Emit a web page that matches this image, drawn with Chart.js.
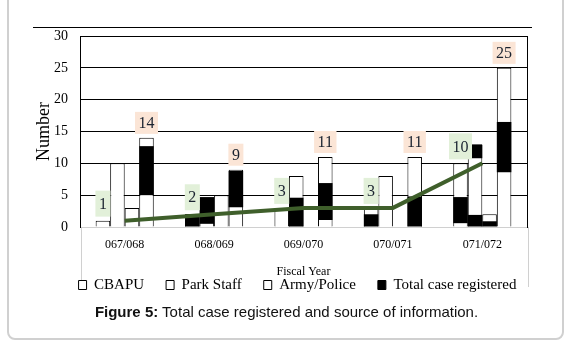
<!DOCTYPE html>
<html>
<head>
<meta charset="utf-8">
<script src="https://cdn.jsdelivr.net/npm/chart.js@4.4.1/dist/chart.umd.min.js"></script>
<style>
  body { margin: 0; background: #fff; }
  #frame { position: absolute; left: 7px; top: -10px; width: 553px; height: 346px; border: 2px solid #d0d0d0; border-radius: 8px; }
  #wrap { position: absolute; left: 0; top: 0; width: 573px; height: 351px; }
  #caption { position: absolute; left: 0; top: 303px; width: 573px; text-align: center; font: 15px "Liberation Sans", Arial, sans-serif; line-height: 18px; color: #111; }
</style>
</head>
<body>
<div id="frame"></div>
<div id="wrap"><canvas id="caseChart"></canvas></div>
<div id="caption"><b>Figure 5:</b> Total case registered and source of information.</div>
<script>
const years = ["067/068", "068/069", "069/070", "070/071", "071/072"];
const legendNames = ["CBAPU", "Park Staff", "Army/Police", "Total case registered"];
const cbapu = [1, 2, 3, 3, 10];
const parkStaff = [10, 2, 8, 8, 13];
const armyPolice = [3, 5, 0, 0, 2];
const totalCases = [14, 9, 11, 11, 25];
const yTicks = [0, 5, 10, 15, 20, 25, 30];

// black patches that show inside the bars of the original figure
const shadeCbapu = [null, [0, 2], null, [0, 2], [0.6, 4.7]];
const shadePark = [null, [0.5, 4.7], [0, 4.6], null, [10.8, 12.9]];
const shadeParkLow = [null, null, null, null, [0, 1.9]];
const shadeArmy = [null, null, null, null, [0, 0.9]];
const shadeTotal = [[5, 12.7], [3.1, 8.8], [1.1, 6.9], [0, 4.8], [8.6, 16.5]];

const serif = "'Liberation Serif', 'Times New Roman', serif";

const shade = (data, stack) => ({
  type: "bar",
  data: data,
  stack: stack,
  backgroundColor: "#000",
  borderWidth: 0,
  order: 1,
});

const outlined = (label, data, stack) => ({
  type: "bar",
  label: label,
  data: data,
  stack: stack,
  backgroundColor: "#fff",
  borderColor: "#000",
  borderWidth: 1,
  order: 2,
});

// value boxes above the CBAPU and total bars
const boxLabels = {
  id: "boxLabels",
  afterDatasetsDraw(chart) {
    const ctx = chart.ctx;
    ctx.save();
    ctx.font = "16px " + serif;
    ctx.textAlign = "center";
    ctx.textBaseline = "middle";
    const draw = (dsIndex, values, bg, h) => {
      chart.getDatasetMeta(dsIndex).data.forEach((bar, i) => {
        const text = String(values[i]);
        const w = Math.max(ctx.measureText(text).width + 7, 15);
        const bottom = bar.y - 4;
        ctx.fillStyle = bg;
        ctx.fillRect(bar.x - w / 2, bottom - h, w, h);
        ctx.fillStyle = "#1a2330";
        ctx.fillText(text, bar.x, bottom - h / 2 + 1);
      });
    };
    draw(5, cbapu, "#e2f0d9", 26);
    draw(8, totalCases, "#fbe5d6", 22);
    ctx.restore();
  },
};

// the loose frame lines of the original figure
const frameLines = {
  id: "frameLines",
  afterDraw(chart) {
    const { ctx, chartArea: a } = chart;
    ctx.save();
    ctx.lineWidth = 1;
    ctx.strokeStyle = "#000";
    ctx.beginPath();
    ctx.moveTo(a.left - 47, a.top - 8.5);
    ctx.lineTo(a.right + 5, a.top - 8.5);
    ctx.stroke();
    ctx.strokeStyle = "#d0d0d0";
    ctx.beginPath();
    ctx.moveTo(a.left + 1.5, a.bottom);
    ctx.lineTo(a.left + 1.5, a.bottom + 53);
    ctx.moveTo(a.right + 1.5, a.bottom);
    ctx.lineTo(a.right + 1.5, a.bottom + 60);
    ctx.stroke();
    ctx.restore();
  },
};

new Chart(document.getElementById("caseChart"), {
  data: {
    labels: years,
    datasets: [
      shade(shadeCbapu, "c"),
      shade(shadePark, "p"),
      shade(shadeParkLow, "p"),
      shade(shadeArmy, "a"),
      shade(shadeTotal, "t"),
      outlined("CBAPU", cbapu, "c"),
      outlined("Park Staff", parkStaff, "p"),
      outlined("Army/Police", armyPolice, "a"),
      outlined("Total case registered", totalCases, "t"),
      {
        type: "line",
        data: cbapu,
        borderColor: "#3f5f2b",
        borderWidth: 4,
        pointRadius: 0,
        tension: 0,
        order: 0,
      },
    ],
  },
  options: {
    responsive: true,
    maintainAspectRatio: false,
    animation: false,
    datasets: { bar: { categoryPercentage: 0.65, barPercentage: 1 } },
    layout: { padding: { left: 22, right: 0, top: 36, bottom: 48.5 } },
    scales: {
      x: {
        stacked: true,
        grid: { display: false, drawTicks: false },
        border: { color: "#d0d0d0" },
        ticks: { color: "#000", padding: 11, font: { family: serif, size: 12 } },
        title: {
          display: true,
          text: "Fiscal Year",
          color: "#000",
          font: { family: serif, size: 12 },
          padding: { top: 0, bottom: -23.7 },
        },
        afterFit: (s) => { s.height = 28.5; },
      },
      y: {
        stacked: false,
        min: 0,
        max: 30,
        afterBuildTicks: (s) => { s.ticks = yTicks.map((v) => ({ value: v })); },
        grid: {
          drawTicks: false,
          color: (c) => (c.tick && c.tick.value === 0 ? "#d0d0d0" : "#000"),
        },
        border: { color: "#000" },
        ticks: { color: "#000", padding: 12, font: { family: serif, size: 14 } },
        title: {
          display: true,
          text: "Number",
          color: "#000",
          font: { family: serif, size: 18 },
          padding: { top: 11.2, bottom: 0 },
        },
        afterFit: (s) => { s.width = 58; },
      },
      y2: {
        position: "right",
        grid: { display: false },
        ticks: { display: false },
        border: { color: "#000" },
        afterFit: (s) => { s.width = 46; },
      },
    },
    plugins: {
      tooltip: { enabled: false },
      legend: {
        position: "bottom",
        labels: {
          boxWidth: 8,
          boxHeight: 9,
          padding: 22,
          color: "#000",
          font: { family: serif, size: 15 },
          generateLabels: () =>
            legendNames.map((name, i) => ({
              text: name,
              fillStyle: i === 3 ? "#000" : "#fff",
              strokeStyle: "#000",
              lineWidth: 1,
              fontColor: "#000",
              hidden: false,
              datasetIndex: 5 + i,
            })),
        },
      },
    },
  },
  plugins: [boxLabels, frameLines],
});
</script>
</body>
</html>
